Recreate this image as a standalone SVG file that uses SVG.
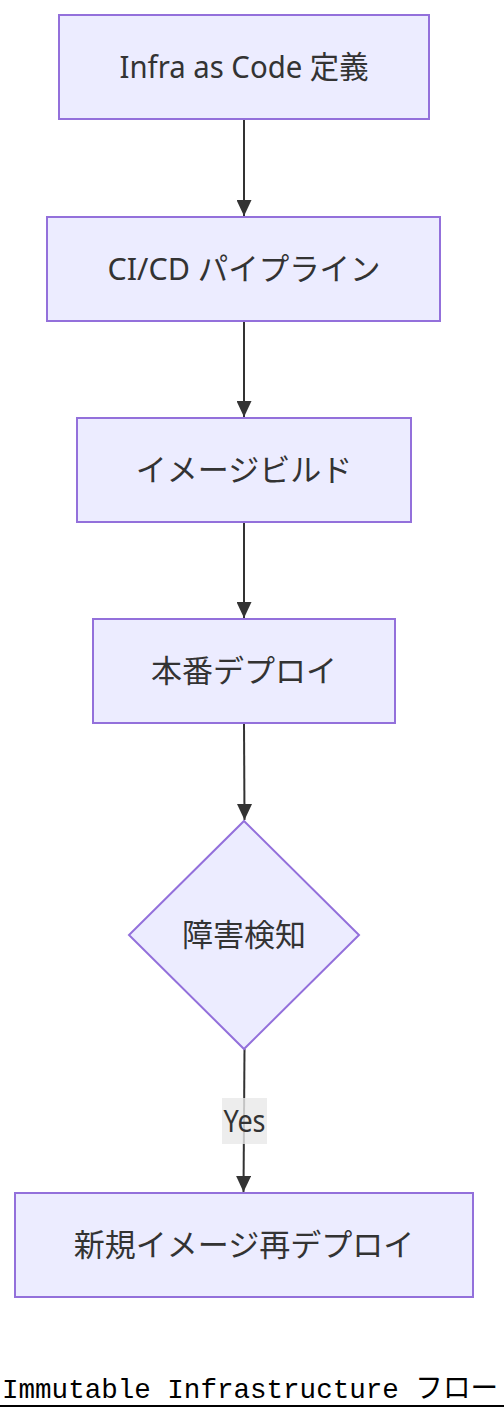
<svg xmlns="http://www.w3.org/2000/svg" width="504" height="1420" viewBox="0 0 504 1420">
<style>
.node{fill:#ECECFF;stroke:#9370DB;stroke-width:2}
.lbl{font-family:"Noto Sans","Noto Sans CJK JP",sans-serif;font-size:31px;fill:#333333;text-anchor:middle;dominant-baseline:central}
.edge{stroke:#333333;stroke-width:2;fill:none}
.title{font-family:"Liberation Mono","Noto Sans CJK JP",monospace;font-size:28px;fill:#000000}
</style>
<defs>
<marker id="arrow" viewBox="0 0 16 15" refX="16" refY="7.5" markerWidth="16" markerHeight="15" markerUnits="userSpaceOnUse" orient="auto">
<path d="M0,0 L16,7.5 L0,15 z" fill="#333333"/>
</marker>
</defs>
<rect width="504" height="1420" fill="#ffffff"/>
<g id="edges">
<line class="edge" x1="244" y1="120" x2="244" y2="216" marker-end="url(#arrow)"/>
<line class="edge" x1="244" y1="321" x2="244" y2="417" marker-end="url(#arrow)"/>
<line class="edge" x1="244" y1="522" x2="244" y2="618" marker-end="url(#arrow)"/>
<path class="edge" d="M244,723 C244,760 244.5,790 244.5,820" marker-end="url(#arrow)"/>
<line class="edge" x1="244.5" y1="1049" x2="243.5" y2="1192" marker-end="url(#arrow)"/>
</g>
<g id="edge-label-yes">
<rect x="222" y="1098" width="45" height="46" fill="#E8E8E8" fill-opacity="0.8"/>
<text class="lbl" x="244.5" y="1120" textLength="42" lengthAdjust="spacingAndGlyphs">Yes</text>
</g>
<g id="n1">
<rect class="node" x="59" y="15" width="370" height="104"/>
<text class="lbl" x="244" y="66" textLength="249" lengthAdjust="spacingAndGlyphs">Infra as Code 定義</text>
</g>
<g id="n2">
<rect class="node" x="47" y="217" width="393" height="104"/>
<text class="lbl" x="244" y="268" textLength="273" lengthAdjust="spacingAndGlyphs">CI/CD パイプライン</text>
</g>
<g id="n3">
<rect class="node" x="77" y="418" width="334" height="104"/>
<text class="lbl" x="244" y="469">イメージビルド</text>
</g>
<g id="n4">
<rect class="node" x="93" y="619" width="302" height="104"/>
<text class="lbl" x="244" y="670">本番デプロイ</text>
</g>
<g id="n5">
<polygon class="node" points="244,821 359,935 244,1049 129,935"/>
<text class="lbl" x="244" y="934">障害検知</text>
</g>
<g id="n6">
<rect class="node" x="15" y="1193" width="458" height="104"/>
<text class="lbl" x="244" y="1244">新規イメージ再デプロイ</text>
</g>
<g id="title">
<text class="title" x="2" y="1398" textLength="496" lengthAdjust="spacingAndGlyphs">Immutable Infrastructure フロー</text>
<line x1="0" y1="1406" x2="504" y2="1406" stroke="#000000" stroke-width="2"/>
</g>
</svg>
